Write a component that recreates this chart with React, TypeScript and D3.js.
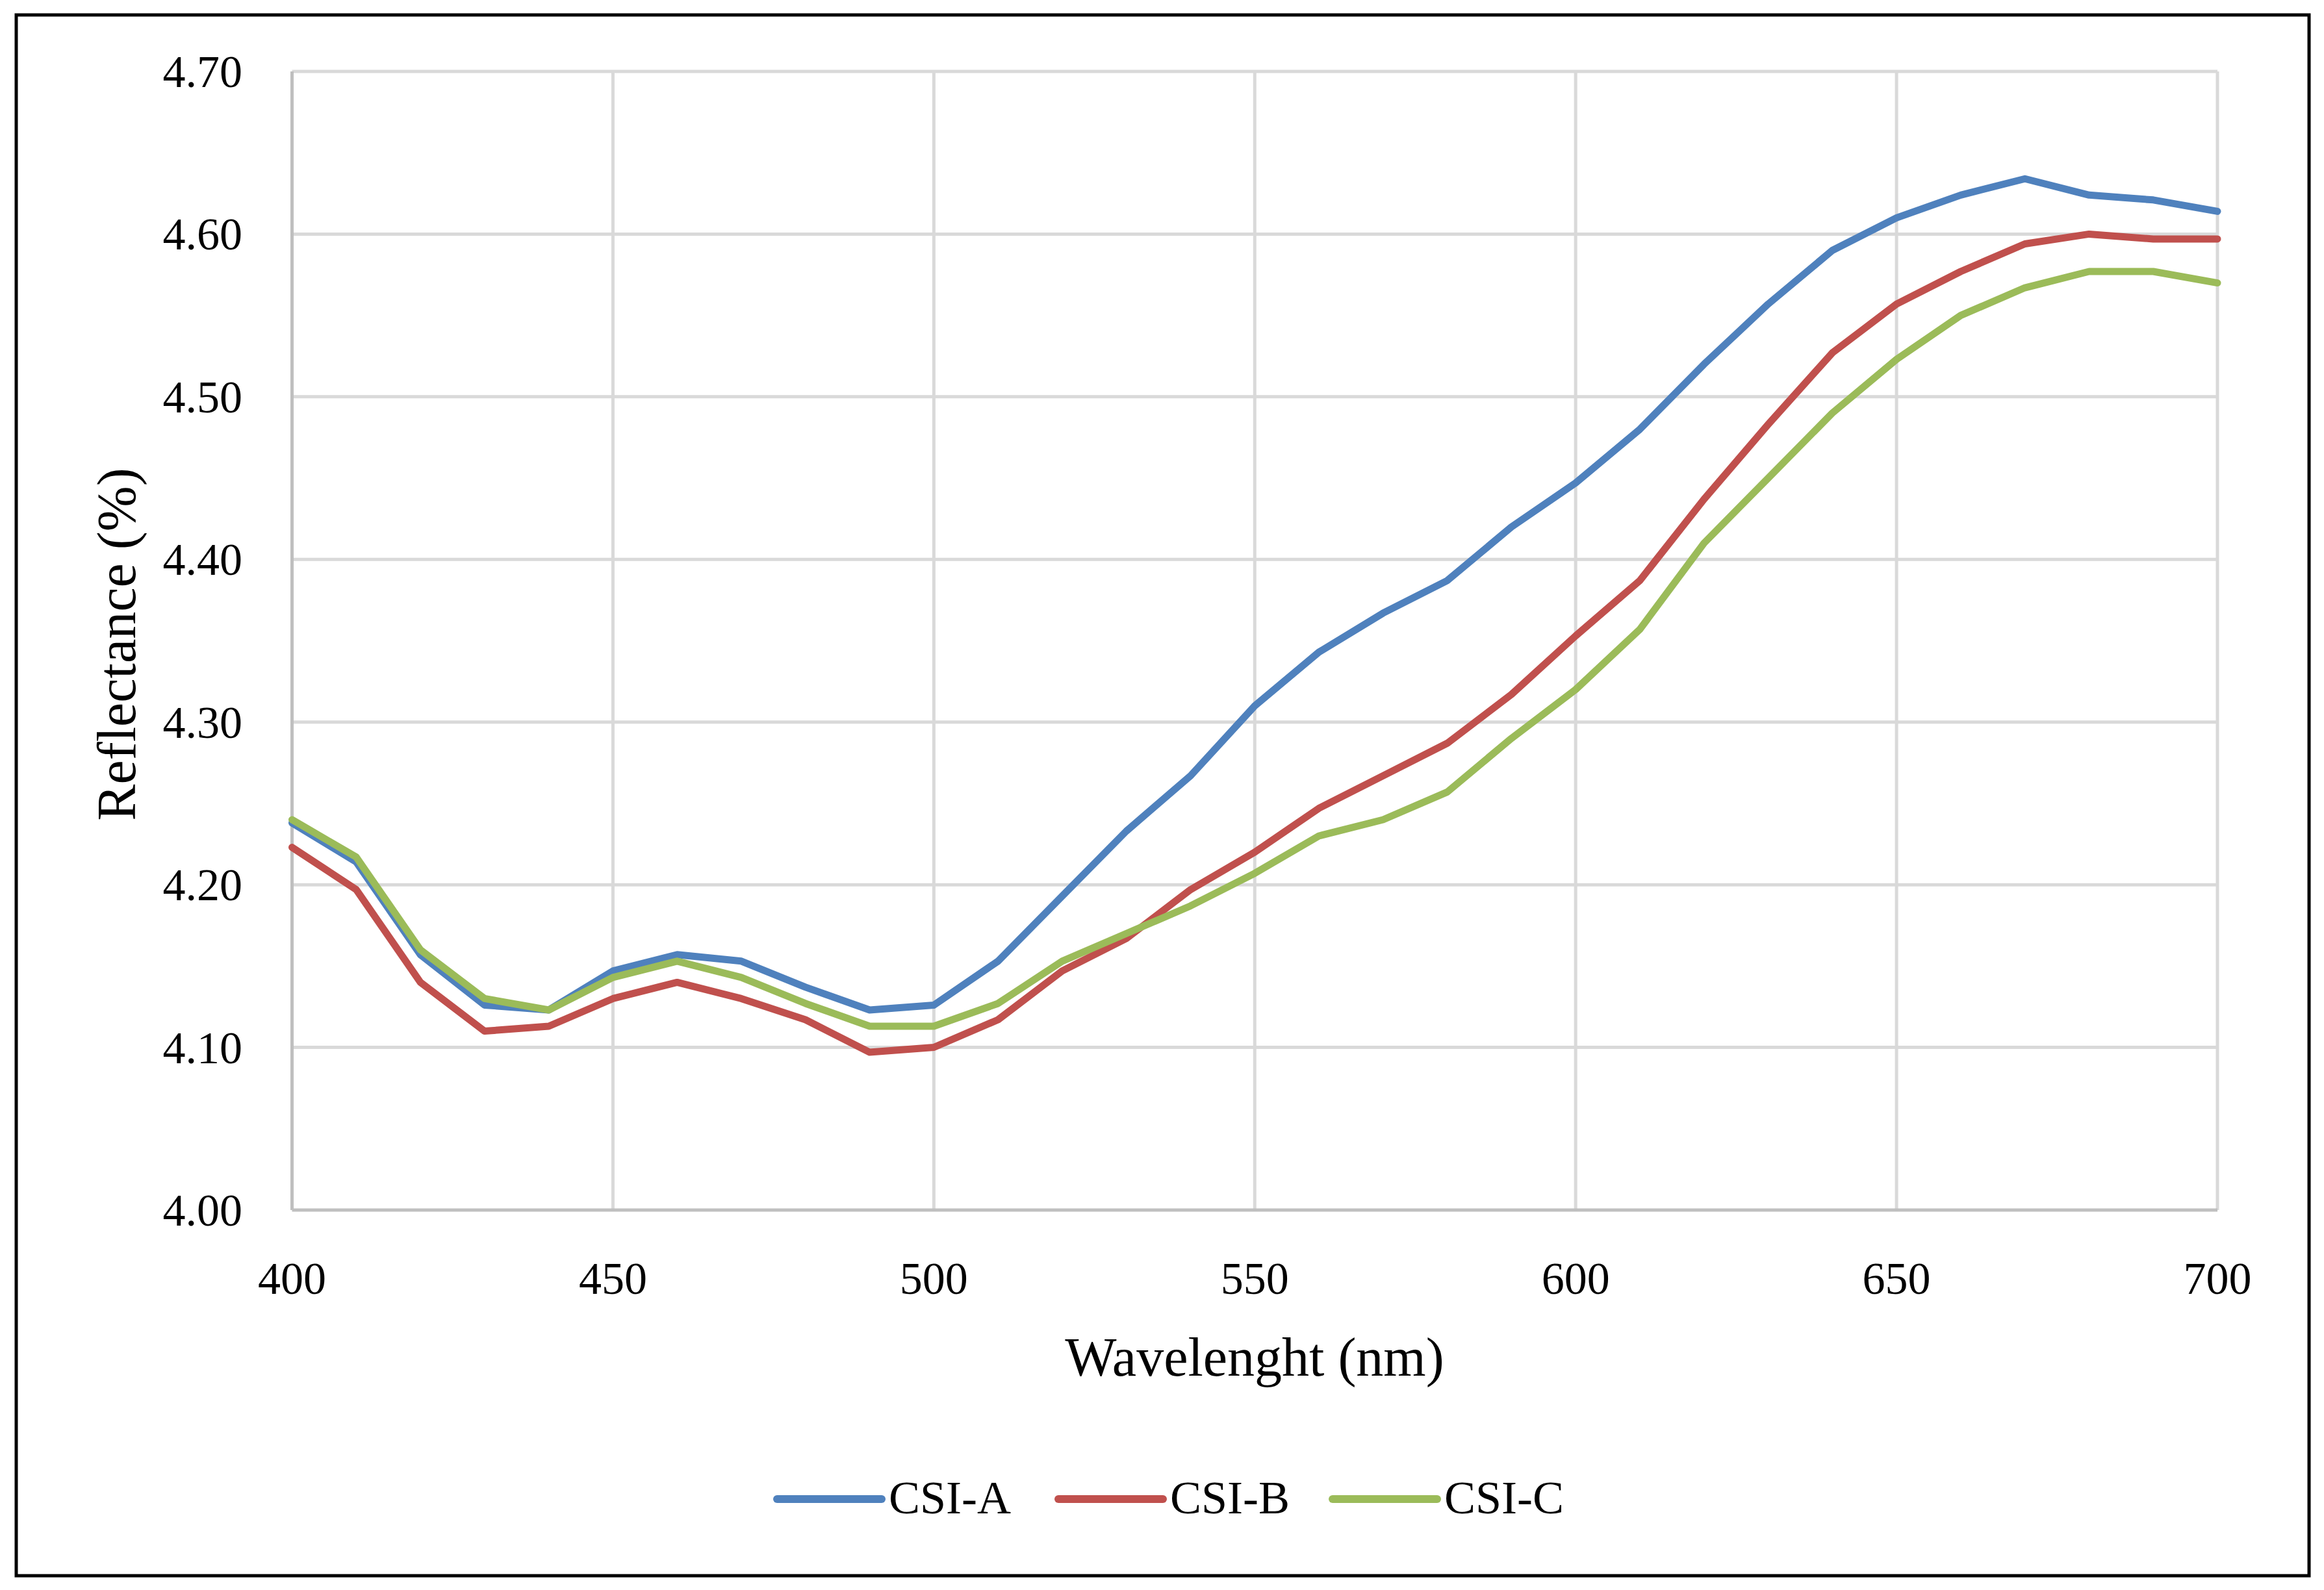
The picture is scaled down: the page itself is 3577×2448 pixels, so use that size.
import React from "react";
import * as d3 from "d3";

const wavelengths = [400, 410, 420, 430, 440, 450, 460, 470, 480, 490, 500, 510, 520, 530, 540, 550, 560, 570, 580, 590, 600, 610, 620, 630, 640, 650, 660, 670, 680, 690, 700];

const csiA = [4.238, 4.214, 4.157, 4.126, 4.123, 4.147, 4.157, 4.153, 4.137, 4.123, 4.126, 4.153, 4.193, 4.233, 4.267, 4.310, 4.343, 4.367, 4.387, 4.420, 4.447, 4.480, 4.520, 4.557, 4.590, 4.610, 4.624, 4.634, 4.624, 4.621, 4.614];
const csiB = [4.223, 4.197, 4.140, 4.110, 4.113, 4.130, 4.140, 4.130, 4.117, 4.097, 4.100, 4.117, 4.147, 4.167, 4.197, 4.220, 4.247, 4.267, 4.287, 4.317, 4.353, 4.387, 4.437, 4.483, 4.527, 4.557, 4.577, 4.594, 4.600, 4.597, 4.597];
const csiC = [4.240, 4.217, 4.160, 4.130, 4.123, 4.143, 4.153, 4.143, 4.127, 4.113, 4.113, 4.127, 4.153, 4.170, 4.187, 4.207, 4.230, 4.240, 4.257, 4.290, 4.320, 4.357, 4.410, 4.450, 4.490, 4.523, 4.550, 4.567, 4.577, 4.577, 4.570];

const seriesNames = ["CSI-A", "CSI-B", "CSI-C"];
const seriesColors = ["#4F81BD", "#C0504D", "#9BBB59"];
const xTicks = [400, 450, 500, 550, 600, 650, 700];
const yTicks = [4.0, 4.1, 4.2, 4.3, 4.4, 4.5, 4.6, 4.7];

const W = 3577;
const H = 2448;
const FONT = "'Palatino Linotype', 'Book Antiqua', Palatino, 'Liberation Serif', serif";

export default function App() {
  const x = d3.scaleLinear().domain([400, 700]).range([449.5, 3413]);
  const y = d3.scaleLinear().domain([4.0, 4.7]).range([1863, 110]);
  const allSeries = [csiA, csiB, csiC];
  const line = d3
    .line<number>()
    .x((_, i) => x(wavelengths[i]))
    .y((d) => y(d));

  const legendItems = [
    { lx: 1196, tx: 1368 },
    { lx: 1629, tx: 1801 },
    { lx: 2051, tx: 2223 },
  ];

  return (
    <svg
      width={W}
      height={H}
      viewBox={`0 0 ${W} ${H}`}
      style={{ position: "absolute", left: 0, top: 0, background: "#fff" }}
    >
      <rect x={0} y={0} width={W} height={H} fill="#fff" />
      <rect x={25} y={23} width={3529} height={2403} fill="none" stroke="#000" strokeWidth={5} />

      {/* gridlines */}
      {yTicks.filter((t) => t > 4.0).map((t) => (
        <line key={"gy" + t} x1={x(400)} x2={x(700)} y1={y(t)} y2={y(t)} stroke="#D9D9D9" strokeWidth={5} />
      ))}
      {xTicks.filter((t) => t > 400).map((t) => (
        <line key={"gx" + t} x1={x(t)} x2={x(t)} y1={y(4.7)} y2={y(4.0)} stroke="#D9D9D9" strokeWidth={5} />
      ))}
      {/* axes */}
      <line x1={x(400)} x2={x(400)} y1={y(4.7)} y2={y(4.0)} stroke="#BFBFBF" strokeWidth={5} />
      <line x1={x(400)} x2={x(700)} y1={y(4.0)} y2={y(4.0)} stroke="#BFBFBF" strokeWidth={5} />

      {/* series */}
      {allSeries.map((s, i) => (
        <path
          key={seriesNames[i]}
          d={line(s) || ""}
          fill="none"
          stroke={seriesColors[i]}
          strokeWidth={11}
          strokeLinejoin="round"
          strokeLinecap="round"
        />
      ))}

      {/* y tick labels */}
      {yTicks.map((t) => (
        <text key={"yl" + t} x={373} y={y(t) + 24} textAnchor="end" fontFamily={FONT} fontSize={70} fill="#000">
          {t.toFixed(2)}
        </text>
      ))}
      {/* x tick labels */}
      {xTicks.map((t) => (
        <text key={"xl" + t} x={x(t)} y={1992} textAnchor="middle" fontFamily={FONT} fontSize={70} fill="#000">
          {t}
        </text>
      ))}

      {/* axis titles */}
      <text x={1931} y={2118} textAnchor="middle" fontFamily={FONT} fontSize={84} fill="#000">
        Wavelenght (nm)
      </text>
      <text
        x={0}
        y={0}
        transform={`translate(208, 992) rotate(-90)`}
        textAnchor="middle"
        fontFamily={FONT}
        fontSize={84}
        fill="#000"
      >
        Reflectance (%)
      </text>

      {/* legend */}
      {legendItems.map((it, i) => (
        <g key={"lg" + i}>
          <line x1={it.lx} x2={it.lx + 161} y1={2308} y2={2308} stroke={seriesColors[i]} strokeWidth={12} strokeLinecap="round" />
          <text x={it.tx} y={2330} fontFamily={FONT} fontSize={72} fill="#000">
            {seriesNames[i]}
          </text>
        </g>
      ))}
    </svg>
  );
}
